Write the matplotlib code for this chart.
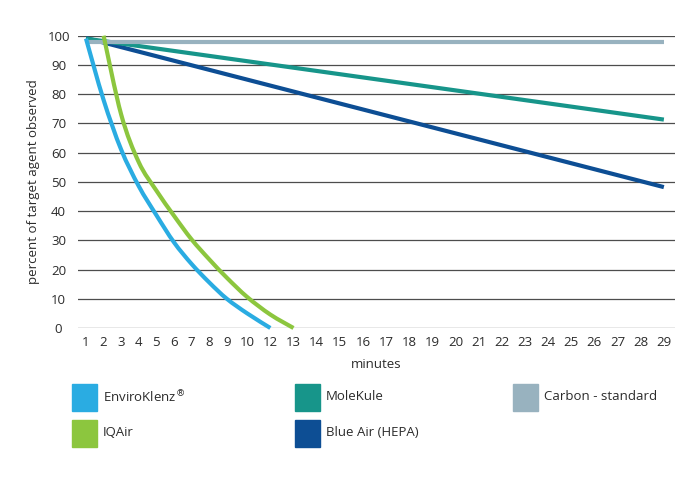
"""
Decay of target agent over time for five air purifiers.
Output: out.png
"""
import numpy as np
import matplotlib
matplotlib.use("Agg")
import matplotlib.pyplot as plt
from matplotlib.patches import Rectangle, PathPatch
from matplotlib.path import Path

# x labels as printed on the source chart (there is no "11")
minutes = ["1", "2", "3", "4", "5", "6", "7", "8", "9", "10",
           "12", "13", "14", "15", "16", "17", "18", "19", "20",
           "21", "22", "23", "24", "25", "26", "27", "28", "29"]

envk_minutes = ["1", "2", "3", "4", "5", "6", "7", "8", "9", "10", "12"]
envk_values = [99, 78, 61, 48.5, 38.6, 29.3, 21.9, 15.6, 10, 5, 0]

iqair_minutes = ["2", "3", "4", "5", "6", "7", "8", "9", "10", "12", "13"]
iqair_values = [100, 73, 56.7, 47, 38.4, 30.3, 23.5, 17.2, 10.6, 4.6, 0]

molekule_minutes = ["1", "29"]
molekule_values = [99, 71.3]

blueair_minutes = ["1", "29"]
blueair_values = [99.2, 48.2]

carbon_minutes = ["1", "29"]
carbon_values = [98, 98]

yticks = [0, 10, 20, 30, 40, 50, 60, 70, 80, 90, 100]

COLORS = {
    "EnviroKlenz": "#2aace2",
    "IQAir": "#8cc63e",
    "MoleKule": "#17958a",
    "Blue Air (HEPA)": "#0d4e94",
    "Carbon - standard": "#98b2bf",
}
TEXT = "#2b2b2b"
GRID = "#4d4d4d"

plt.rcParams["font.family"] = ["Open Sans", "DejaVu Sans"]

# the source spaced its minute labels like typed text: wider labels take more room
CHAR_W, GAP = 5.55, 12.05
tick_pos = {}
pos = 0.0
for i, lab in enumerate(minutes):
    if i > 0:
        pos += CHAR_W * (len(minutes[i - 1]) + len(lab)) / 2 + GAP
    tick_pos[lab] = pos


def curve_path(xs, ys):
    # cubic bezier through the read points (catmull-rom tangents)
    p = np.column_stack([xs, ys]).astype(float)
    if len(p) < 3:
        return Path(p)
    ext = np.vstack([p[0], p, p[-1]])
    verts, codes = [p[0]], [Path.MOVETO]
    for i in range(1, len(ext) - 2):
        p0, p1, p2, p3 = ext[i - 1], ext[i], ext[i + 1], ext[i + 2]
        verts += [p1 + (p2 - p0) / 6, p2 - (p3 - p1) / 6, p2]
        codes += [Path.CURVE4] * 3
    return Path(verts, codes)


W, H = 700, 488
fig = plt.figure(figsize=(W / 100, H / 100), dpi=100)
ax = fig.add_axes([78 / W, 1 - 328 / H, (675 - 78) / W, (328 - 35.7) / H])
ax.set_xlim(-8, 589)
ax.set_ylim(0, 100)

for y in yticks:
    ax.axhline(y, color=GRID, lw=0.9, zorder=1)

series = [
    ("Blue Air (HEPA)", blueair_minutes, blueair_values),
    ("MoleKule", molekule_minutes, molekule_values),
    ("Carbon - standard", carbon_minutes, carbon_values),
    ("IQAir", iqair_minutes, iqair_values),
    ("EnviroKlenz", envk_minutes, envk_values),
]
for name, mins, vals in series:
    xs = [tick_pos[m] for m in mins]
    ax.add_patch(PathPatch(curve_path(xs, vals), fill=False,
                           edgecolor=COLORS[name], lw=3.0, capstyle="butt",
                           joinstyle="round", clip_on=False, zorder=3))

for s in ax.spines.values():
    s.set_visible(False)
ax.set_xticks([tick_pos[m] for m in minutes])
ax.set_xticklabels(minutes)
ax.set_yticks(yticks)
ax.set_yticklabels([str(v) for v in yticks], ha="center")
ax.tick_params(length=0, labelsize=9.5, colors=TEXT)
ax.tick_params(axis="x", pad=6)
ax.tick_params(axis="y", pad=14)
ax.set_xlabel("minutes", fontsize=9.5, color=TEXT, labelpad=6)
ax.set_ylabel("percent of target agent observed", fontsize=9.5, color=TEXT,
              va="center")
ax.yaxis.set_label_coords((33 - 78) / 597, 0.5)

# legend laid out in three columns like the source
legend = [
    ("EnviroKlenz", r"EnviroKlenz$^{\circledR}$", 72, 397),
    ("IQAir", "IQAir", 72, 433),
    ("MoleKule", "MoleKule", 295, 397),
    ("Blue Air (HEPA)", "Blue Air (HEPA)", 295, 433),
    ("Carbon - standard", "Carbon - standard", 513, 397),
]
for key, label, x0, yc in legend:
    fig.patches.append(Rectangle((x0 / W, 1 - (yc + 13.5) / H), 25 / W, 27 / H,
                                 transform=fig.transFigure,
                                 color=COLORS[key]))
    fig.text((x0 + 31) / W, 1 - yc / H, label, fontsize=9.5, color=TEXT,
             va="center", ha="left")

fig.savefig("out.png", dpi=100)
